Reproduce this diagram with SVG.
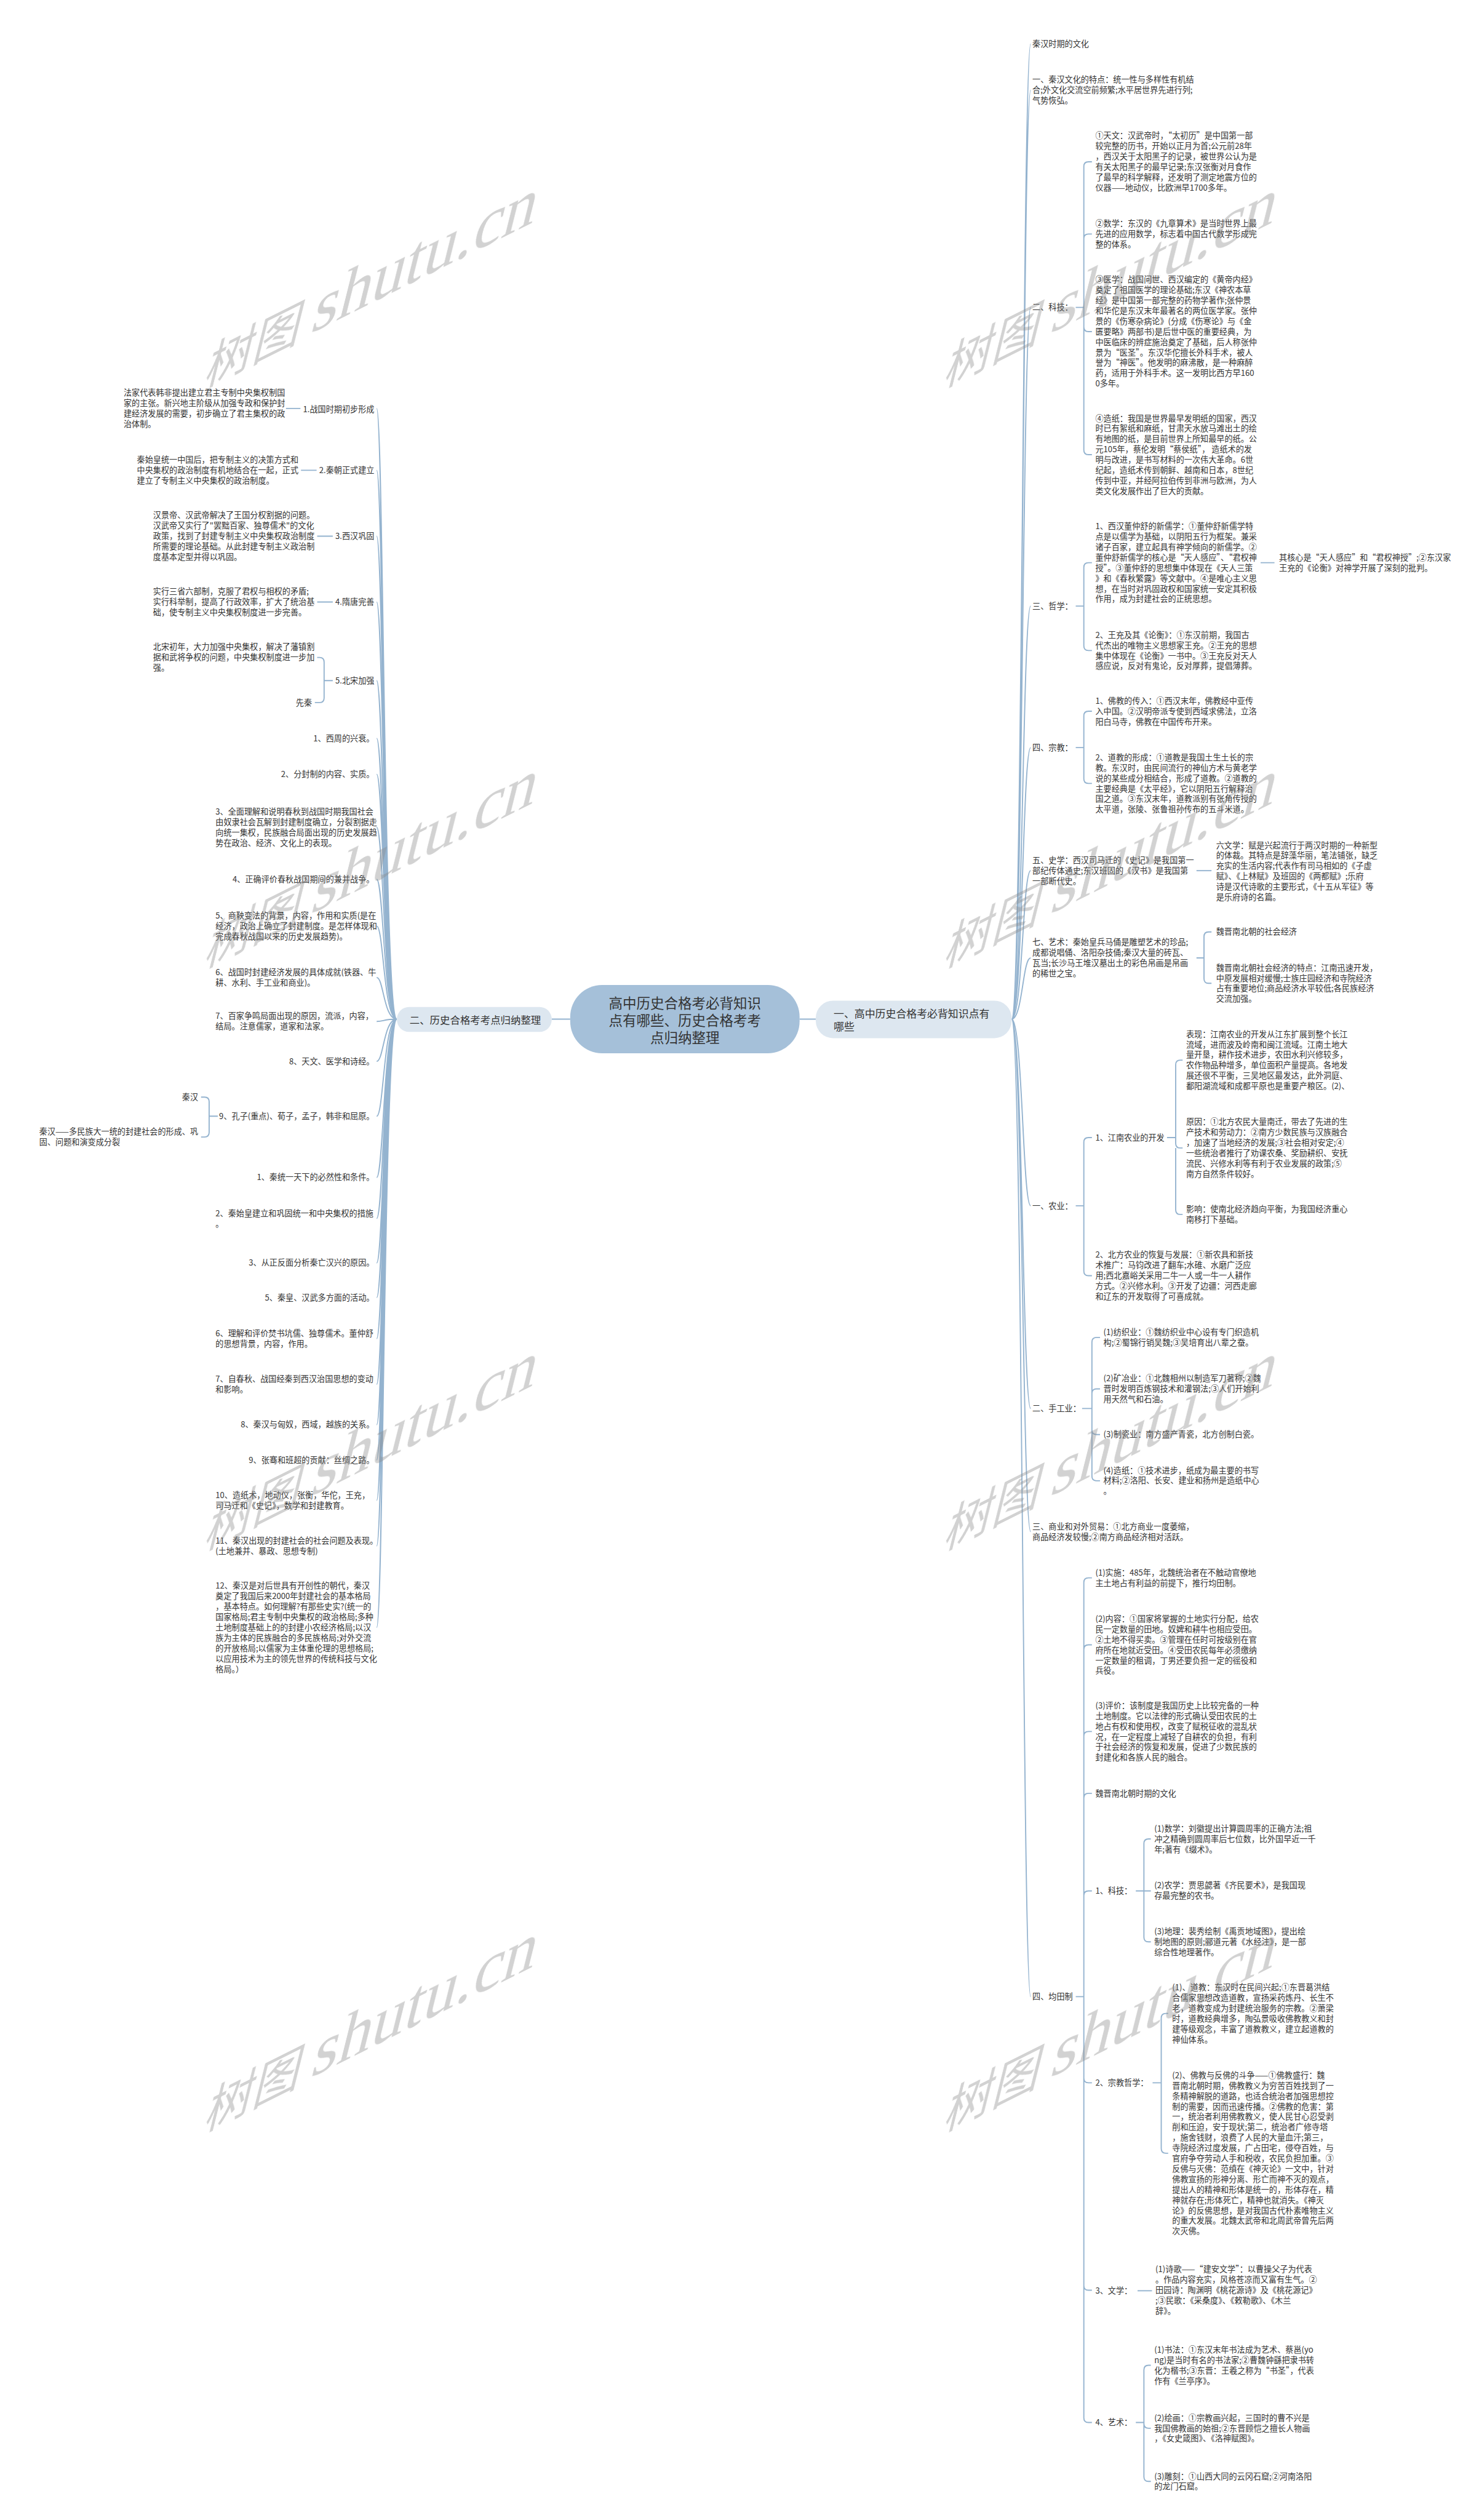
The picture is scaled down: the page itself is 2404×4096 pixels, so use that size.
<svg xmlns="http://www.w3.org/2000/svg" width="2404" height="4096" viewBox="0 0 2404 4096">
<style>
.t{font-family:"Noto Sans CJK SC","Liberation Sans",sans-serif;font-size:14px;fill:#333}
.e{text-anchor:end}
.c path{fill:none;stroke:#94b3cf;stroke-width:2}
.wm{fill:#888;opacity:.38}
.wa{font-family:"Noto Sans CJK SC",sans-serif;font-size:92px}
.wb{font-family:"Liberation Serif",serif;font-size:128px}
</style>
<rect width="2404" height="4096" fill="#fff"/>
<g transform="scale(0.9390625)">
<g id="connectors" class="c">
<path d="M955 1764H987M1384 1764H1412"/>
<path d="M1751 1764C1770 1764 1770 76 1784 76M1751 1764C1770 1764 1770 156 1784 156M1751 1764C1770 1764 1770 532 1784 532M1751 1764C1770 1764 1770 1049 1784 1049M1751 1764C1770 1764 1770 1294 1784 1294M1751 1764C1770 1764 1770 1507 1784 1507M1751 1764C1770 1764 1770 1658 1784 1658M1751 1764C1770 1764 1770 2087 1784 2087M1751 1764C1770 1764 1770 2438 1784 2438M1751 1764C1770 1764 1770 2651 1784 2651M1751 1764C1770 1764 1770 3456 1784 3456"/>
<path d="M1862 532H1876V288Q1876 280 1884 280H1890M1876 532V413Q1876 405 1884 405H1890M1876 532V566Q1876 574 1884 574H1890M1876 532V779Q1876 787 1884 787H1890"/>
<path d="M1862 1049H1876V982Q1876 974 1884 974H1890M1876 1049V1118Q1876 1126 1884 1126H1890M2182 974H2206"/>
<path d="M1862 1294H1876V1239Q1876 1231 1884 1231H1890M1876 1294V1348Q1876 1356 1884 1356H1890"/>
<path d="M2071 1507H2097"/>
<path d="M2071 1658H2084V1621Q2084 1613 2092 1613H2097M2084 1658V1694Q2084 1702 2092 1702H2097"/>
<path d="M1862 2087H1876V1977Q1876 1969 1884 1969H1890M1876 2087V2200Q1876 2208 1884 2208H1890"/>
<path d="M2020 1969H2035V1843Q2035 1835 2043 1835H2047M2035 1969V1979Q2035 1987 2043 1987H2047M2035 1987V2094Q2035 2102 2043 2102H2047"/>
<path d="M1873 2438H1890V2323Q1890 2315 1898 2315H1904M1890 2438V2412Q1890 2404 1898 2404H1904M1890 2438V2475Q1890 2483 1898 2483H1904M1890 2438V2555Q1890 2563 1898 2563H1904"/>
<path d="M1862 3456H1876V2739Q1876 2731 1884 2731H1890M1876 2855Q1876 2847 1884 2847H1890M1876 3005Q1876 2997 1884 2997H1890M1876 3112Q1876 3104 1884 3104H1890M1876 3281Q1876 3273 1884 3273H1890M1876 3456V3597Q1876 3605 1884 3605H1890M1876 3597V3956Q1876 3964 1884 3964H1890M1876 3956V4185Q1876 4193 1884 4193H1890"/>
<path d="M1966 3273H1980V3191Q1980 3183 1988 3183H1992M1980 3273H1992M1980 3273V3353Q1980 3361 1988 3361H1992"/>
<path d="M1995 3605H2010V3493Q2010 3485 2018 3485H2022M2010 3605V3719Q2010 3727 2018 3727H2022"/>
<path d="M1969 3965H1994"/>
<path d="M1966 4193H1980V4102Q1980 4094 1988 4094H1992M1980 4193V4195Q1980 4203 1988 4203H1992M1980 4195V4287Q1980 4295 1988 4295H1992"/>
<path d="M687 1764C664 1764 664 707 652 707M687 1764C664 1764 664 814 652 814M687 1764C664 1764 664 928 652 928M687 1764C664 1764 664 1042 652 1042M687 1764C664 1764 664 1178 652 1178M687 1764C664 1764 664 1278 652 1278M687 1764C664 1764 664 1340 652 1340M687 1764C664 1764 664 1432 652 1432M687 1764C664 1764 664 1522 652 1522M687 1764C664 1764 664 1603 652 1603M687 1764C664 1764 664 1692 652 1692M687 1764C664 1764 664 1768 652 1768M687 1764C664 1764 664 1837 652 1837M687 1764C664 1764 664 1932 652 1932M687 1764C664 1764 664 2038 652 2038M687 1764C664 1764 664 2109 652 2109M687 1764C664 1764 664 2186 652 2186M687 1764C664 1764 664 2246 652 2246M687 1764C664 1764 664 2317 652 2317M687 1764C664 1764 664 2396 652 2396M687 1764C664 1764 664 2466 652 2466M687 1764C664 1764 664 2527 652 2527M687 1764C664 1764 664 2597 652 2597M687 1764C664 1764 664 2676 652 2676M687 1764C664 1764 664 2817 652 2817"/>
<path d="M520 707H495M548 814H521M576 928H549M576 1042H549"/>
<path d="M576 1178H561V1146Q561 1138 553 1138H549M561 1178V1208Q561 1216 553 1216H545"/>
<path d="M377 1932H362V1907Q362 1899 354 1899H348M362 1932V1960Q362 1968 354 1968H348"/>
</g>
<g id="root"><rect x="987" y="1705" width="397" height="118" rx="55" fill="#a5c0d9"/><text class="t" style="font-size:24px;text-anchor:middle"><tspan x="1185.5" y="1745">高中历史合格考必背知识</tspan><tspan x="1185.5" y="1775">点有哪些、历史合格考考</tspan><tspan x="1185.5" y="1805">点归纳整理</tspan></text></g>
<g id="b1"><rect x="1412" y="1732" width="339" height="65" rx="30" fill="#dde7f0"/><text class="t" style="font-size:18px"><tspan x="1443" y="1761">一、高中历史合格考必背知识点有</tspan><tspan x="1443" y="1784">哪些</tspan></text></g>
<g id="b2"><rect x="687" y="1743" width="268" height="43" rx="21" fill="#dde7f0"/><text class="t" style="font-size:17.5px" x="709" y="1772">二、历史合格考考点归纳整理</text></g>
<g id="r1"><text class="t" x="1787" y="81">秦汉时期的文化</text></g>
<g id="r2"><text class="t"><tspan x="1787" y="143">一、秦汉文化的特点：统一性与多样性有机结</tspan><tspan x="1787" y="161">合;外文化交流空前频繁;水平居世界先进行列;</tspan><tspan x="1787" y="179">气势恢弘。</tspan></text></g>
<g id="r3"><text class="t" x="1787" y="537">二、科技：</text></g>
<g id="r3a"><text class="t"><tspan x="1896" y="240">①天文：汉武帝时，“太初历”是中国第一部</tspan><tspan x="1896" y="258">较完整的历书，开始以正月为首;公元前28年</tspan><tspan x="1896" y="276">，西汉关于太阳黑子的记录，被世界公认为是</tspan><tspan x="1896" y="294">有关太阳黑子的最早记录;东汉张衡对月食作</tspan><tspan x="1896" y="312">了最早的科学解释，还发明了测定地震方位的</tspan><tspan x="1896" y="330">仪器——地动仪，比欧洲早1700多年。</tspan></text></g>
<g id="r3b"><text class="t"><tspan x="1896" y="392">②数学：东汉的《九章算术》是当时世界上最</tspan><tspan x="1896" y="410">先进的应用数学，标志着中国古代数学形成完</tspan><tspan x="1896" y="428">整的体系。</tspan></text></g>
<g id="r3c"><text class="t"><tspan x="1896" y="489">③医学：战国问世、西汉编定的《黄帝内经》</tspan><tspan x="1896" y="507">奠定了祖国医学的理论基础;东汉《神农本草</tspan><tspan x="1896" y="525">经》是中国第一部完整的药物学著作;张仲景</tspan><tspan x="1896" y="543">和华佗是东汉末年最著名的两位医学家。张仲</tspan><tspan x="1896" y="561">景的《伤寒杂病论》(分成《伤寒论》与《金</tspan><tspan x="1896" y="579">匮要略》两部书)是后世中医的重要经典，为</tspan><tspan x="1896" y="597">中医临床的辨症施治奠定了基础，后人称张仲</tspan><tspan x="1896" y="615">景为“医圣”。东汉华佗擅长外科手术，被人</tspan><tspan x="1896" y="633">誉为“神医”。他发明的麻沸散，是一种麻醉</tspan><tspan x="1896" y="651">药，适用于外科手术。这一发明比西方早160</tspan><tspan x="1896" y="669">0多年。</tspan></text></g>
<g id="r3d"><text class="t"><tspan x="1896" y="729">④造纸：我国是世界最早发明纸的国家，西汉</tspan><tspan x="1896" y="747">时已有絮纸和麻纸，甘肃天水放马滩出土的绘</tspan><tspan x="1896" y="765">有地图的纸，是目前世界上所知最早的纸。公</tspan><tspan x="1896" y="783">元105年，蔡伦发明“蔡侯纸”， 造纸术的发</tspan><tspan x="1896" y="801">明与改进，是书写材料的一次伟大革命。6世</tspan><tspan x="1896" y="819">纪起，造纸术传到朝鲜、越南和日本，8世纪</tspan><tspan x="1896" y="837">传到中亚，并经阿拉伯传到非洲与欧洲，为人</tspan><tspan x="1896" y="855">类文化发展作出了巨大的贡献。</tspan></text></g>
<g id="r4"><text class="t" x="1787" y="1054">三、哲学：</text></g>
<g id="r4a"><text class="t"><tspan x="1896" y="916">1、西汉董仲舒的新儒学：①董仲舒新儒学特</tspan><tspan x="1896" y="934">点是以儒学为基础，以阴阳五行为框架。兼采</tspan><tspan x="1896" y="952">诸子百家，建立起具有神学倾向的新儒学。②</tspan><tspan x="1896" y="970">董仲舒新儒学的核心是“天人感应”、“君权神</tspan><tspan x="1896" y="988">授”。③董仲舒的思想集中体现在《天人三策</tspan><tspan x="1896" y="1006">》和《春秋繁露》等文献中。④是唯心主义思</tspan><tspan x="1896" y="1024">想，在当时对巩固政权和国家统一安定其积极</tspan><tspan x="1896" y="1042">作用，成为封建社会的正统思想。</tspan></text></g>
<g id="r4a1"><text class="t"><tspan x="2214" y="970">其核心是“天人感应”和“君权神授”;②东汉家</tspan><tspan x="2214" y="988">王充的《论衡》对神学开展了深刻的批判。</tspan></text></g>
<g id="r4b"><text class="t"><tspan x="1896" y="1104">2、王充及其《论衡》：①东汉前期，我国古</tspan><tspan x="1896" y="1122">代杰出的唯物主义思想家王充。②王充的思想</tspan><tspan x="1896" y="1140">集中体现在《论衡》一书中。③王充反对天人</tspan><tspan x="1896" y="1158">感应说，反对有鬼论，反对厚葬，提倡薄葬。</tspan></text></g>
<g id="r5"><text class="t" x="1787" y="1299">四、宗教：</text></g>
<g id="r5a"><text class="t"><tspan x="1896" y="1218">1、佛教的传入：①西汉末年，佛教经中亚传</tspan><tspan x="1896" y="1236">入中国。②汉明帝派专使到西域求佛法，立洛</tspan><tspan x="1896" y="1254">阳白马寺，佛教在中国传布开来。</tspan></text></g>
<g id="r5b"><text class="t"><tspan x="1896" y="1316">2、道教的形成：①道教是我国土生土长的宗</tspan><tspan x="1896" y="1334">教。东汉时，由民间流行的神仙方术与黄老学</tspan><tspan x="1896" y="1352">说的某些成分相结合，形成了道教。②道教的</tspan><tspan x="1896" y="1370">主要经典是《太平经》，它以阴阳五行解释治</tspan><tspan x="1896" y="1388">国之道。③东汉末年，道教派别有张角传授的</tspan><tspan x="1896" y="1406">太平道，张陵、张鲁祖孙传布的五斗米道。</tspan></text></g>
<g id="r6"><text class="t"><tspan x="1787" y="1494">五、史学：西汉司马迁的《史记》是我国第一</tspan><tspan x="1787" y="1512">部纪传体通史;东汉班固的《汉书》是我国第</tspan><tspan x="1787" y="1530">一部断代史。</tspan></text></g>
<g id="r6a"><text class="t"><tspan x="2105" y="1468">六文学：赋是兴起流行于两汉时期的一种新型</tspan><tspan x="2105" y="1486">的体裁。其特点是辞藻华丽，笔法铺张，缺乏</tspan><tspan x="2105" y="1504">充实的生活内容;代表作有司马相如的《子虚</tspan><tspan x="2105" y="1522">赋》、《上林赋》及班固的《两都赋》;乐府</tspan><tspan x="2105" y="1540">诗是汉代诗歌的主要形式，《十五从军征》等</tspan><tspan x="2105" y="1558">是乐府诗的名篇。</tspan></text></g>
<g id="r7"><text class="t"><tspan x="1787" y="1636">七、艺术：秦始皇兵马俑是雕塑艺术的珍品;</tspan><tspan x="1787" y="1654">成都说唱俑、洛阳杂技俑;秦汉大量的砖瓦、</tspan><tspan x="1787" y="1672">瓦当;长沙马王堆汉墓出土的彩色帛画是帛画</tspan><tspan x="1787" y="1690">的稀世之宝。</tspan></text></g>
<g id="r7a"><text class="t" x="2105" y="1618">魏晋南北朝的社会经济</text></g>
<g id="r7b"><text class="t"><tspan x="2105" y="1680">魏晋南北朝社会经济的特点：江南迅速开发，</tspan><tspan x="2105" y="1698">中原发展相对缓慢;士族庄园经济和寺院经济</tspan><tspan x="2105" y="1716">占有重要地位;商品经济水平较低;各民族经济</tspan><tspan x="2105" y="1734">交流加强。</tspan></text></g>
<g id="r8"><text class="t" x="1787" y="2092">一、农业：</text></g>
<g id="r8a"><text class="t" x="1896" y="1974">1、江南农业的开发</text></g>
<g id="r8a1"><text class="t"><tspan x="2053" y="1795">表现：江南农业的开发从江东扩展到整个长江</tspan><tspan x="2053" y="1813">流域，进而波及岭南和闽江流域。江南土地大</tspan><tspan x="2053" y="1831">量开垦，耕作技术进步，农田水利兴修较多，</tspan><tspan x="2053" y="1849">农作物品种增多，单位面积产量提高。各地发</tspan><tspan x="2053" y="1867">展还很不平衡，三吴地区最发达，此外洞庭、</tspan><tspan x="2053" y="1885">鄱阳湖流域和成都平原也是重要产粮区。(2)、</tspan></text></g>
<g id="r8a2"><text class="t"><tspan x="2053" y="1947">原因：①北方农民大量南迁，带去了先进的生</tspan><tspan x="2053" y="1965">产技术和劳动力：②南方少数民族与汉族融合</tspan><tspan x="2053" y="1983">，加速了当地经济的发展;③社会相对安定;④</tspan><tspan x="2053" y="2001">一些统治者推行了劝课农桑、奖励耕织、安抚</tspan><tspan x="2053" y="2019">流民、兴修水利等有利于农业发展的政策;⑤</tspan><tspan x="2053" y="2037">南方自然条件较好。</tspan></text></g>
<g id="r8a3"><text class="t"><tspan x="2053" y="2098">影响：使南北经济趋向平衡，为我国经济重心</tspan><tspan x="2053" y="2116">南移打下基础。</tspan></text></g>
<g id="r8b"><text class="t"><tspan x="1896" y="2177">2、北方农业的恢复与发展：①新农具和新技</tspan><tspan x="1896" y="2195">术推广：马钧改进了翻车;水碓、水磨广泛应</tspan><tspan x="1896" y="2213">用;西北嘉峪关采用二牛一人或一牛一人耕作</tspan><tspan x="1896" y="2231">方式。②兴修水利。③开发了边疆：河西走廊</tspan><tspan x="1896" y="2249">和辽东的开发取得了可喜成就。</tspan></text></g>
<g id="r9"><text class="t" x="1787" y="2443">二、手工业：</text></g>
<g id="r9a"><text class="t"><tspan x="1910" y="2311">(1)纺织业：①魏纺织业中心设有专门织造机</tspan><tspan x="1910" y="2329">构;②蜀锦行销吴魏;③吴培育出八辈之蚕。</tspan></text></g>
<g id="r9b"><text class="t"><tspan x="1910" y="2391">(2)矿冶业：①北魏相州以制造军刀著称;②魏</tspan><tspan x="1910" y="2409">晋时发明百炼钢技术和灌钢法;③人们开始利</tspan><tspan x="1910" y="2427">用天然气和石油。</tspan></text></g>
<g id="r9c"><text class="t" x="1910" y="2488">(3)制瓷业：南方盛产青瓷，北方创制白瓷。</text></g>
<g id="r9d"><text class="t"><tspan x="1910" y="2550">(4)造纸：①技术进步，纸成为最主要的书写</tspan><tspan x="1910" y="2568">材料;②洛阳、长安、建业和扬州是造纸中心</tspan><tspan x="1910" y="2586">。</tspan></text></g>
<g id="r10"><text class="t"><tspan x="1787" y="2647">三、商业和对外贸易：①北方商业一度萎缩，</tspan><tspan x="1787" y="2665">商品经济发较慢;②南方商品经济相对活跃。</tspan></text></g>
<g id="r11"><text class="t" x="1787" y="3461">四、均田制</text></g>
<g id="r11a"><text class="t"><tspan x="1896" y="2727">(1)实施：485年，北魏统治者在不触动官僚地</tspan><tspan x="1896" y="2745">主土地占有利益的前提下，推行均田制。</tspan></text></g>
<g id="r11b"><text class="t"><tspan x="1896" y="2807">(2)内容：①国家将掌握的土地实行分配，给农</tspan><tspan x="1896" y="2825">民一定数量的田地。奴婢和耕牛也相应受田。</tspan><tspan x="1896" y="2843">②土地不得买卖。③管理在任时可按级别在官</tspan><tspan x="1896" y="2861">府所在地就近受田。④受田农民每年必须缴纳</tspan><tspan x="1896" y="2879">一定数量的租调，丁男还要负担一定的徭役和</tspan><tspan x="1896" y="2897">兵役。</tspan></text></g>
<g id="r11c"><text class="t"><tspan x="1896" y="2957">(3)评价：该制度是我国历史上比较完备的一种</tspan><tspan x="1896" y="2975">土地制度。它以法律的形式确认受田农民的土</tspan><tspan x="1896" y="2993">地占有权和使用权，改变了赋税征收的混乱状</tspan><tspan x="1896" y="3011">况，在一定程度上减轻了自耕农的负担，有利</tspan><tspan x="1896" y="3029">于社会经济的恢复和发展，促进了少数民族的</tspan><tspan x="1896" y="3047">封建化和各族人民的融合。</tspan></text></g>
<g id="r11d"><text class="t" x="1896" y="3109">魏晋南北朝时期的文化</text></g>
<g id="r11e"><text class="t" x="1896" y="3278">1、科技：</text></g>
<g id="r11e1"><text class="t"><tspan x="1998" y="3170">(1)数学：刘徽提出计算圆周率的正确方法;祖</tspan><tspan x="1998" y="3188">冲之精确到圆周率后七位数，比外国早近一千</tspan><tspan x="1998" y="3206">年;著有《缀术》。</tspan></text></g>
<g id="r11e2"><text class="t"><tspan x="1998" y="3268">(2)农学：贾思勰著《齐民要术》，是我国现</tspan><tspan x="1998" y="3286">存最完整的农书。</tspan></text></g>
<g id="r11e3"><text class="t"><tspan x="1998" y="3348">(3)地理：裴秀绘制《禹贡地域图》，提出绘</tspan><tspan x="1998" y="3366">制地图的原则;郦道元著《水经注》，是一部</tspan><tspan x="1998" y="3384">综合性地理著作。</tspan></text></g>
<g id="r11f"><text class="t" x="1896" y="3610">2、宗教哲学：</text></g>
<g id="r11f1"><text class="t"><tspan x="2029" y="3445">(1)、道教：东汉时在民间兴起;①东晋葛洪结</tspan><tspan x="2029" y="3463">合儒家思想改造道教，宣扬采药炼丹、长生不</tspan><tspan x="2029" y="3481">老，道教变成为封建统治服务的宗教。②萧梁</tspan><tspan x="2029" y="3499">时，道教经典增多，陶弘景吸收佛教教义和封</tspan><tspan x="2029" y="3517">建等级观念，丰富了道教教义，建立起道教的</tspan><tspan x="2029" y="3535">神仙体系。</tspan></text></g>
<g id="r11f2"><text class="t"><tspan x="2029" y="3597">(2)、佛教与反佛的斗争——①佛教盛行：魏</tspan><tspan x="2029" y="3615">晋南北朝时期，佛教教义为穷苦百姓找到了一</tspan><tspan x="2029" y="3633">条精神解脱的道路，也适合统治者加强思想控</tspan><tspan x="2029" y="3651">制的需要，因而迅速传播。②佛教的危害：第</tspan><tspan x="2029" y="3669">一，统治者利用佛教教义，使人民甘心忍受剥</tspan><tspan x="2029" y="3687">削和压迫，安于现状;第二，统治者广修寺塔</tspan><tspan x="2029" y="3705">，施舍钱财，浪费了人民的大量血汗;第三，</tspan><tspan x="2029" y="3723">寺院经济过度发展，广占田宅，侵夺百姓，与</tspan><tspan x="2029" y="3741">官府争夺劳动人手和税收，农民负担加重。③</tspan><tspan x="2029" y="3759">反佛与灭佛：范缜在《神灭论》一文中，针对</tspan><tspan x="2029" y="3777">佛教宣扬的形神分离、形亡而神不灭的观点，</tspan><tspan x="2029" y="3795">提出人的精神和形体是统一的，形体存在，精</tspan><tspan x="2029" y="3813">神就存在;形体死亡，精神也就消失。《神灭</tspan><tspan x="2029" y="3831">论》的反佛思想，是对我国古代朴素唯物主义</tspan><tspan x="2029" y="3849">的重大发展。北魏太武帝和北周武帝曾先后两</tspan><tspan x="2029" y="3867">次灭佛。</tspan></text></g>
<g id="r11g"><text class="t" x="1896" y="3970">3、文学：</text></g>
<g id="r11g1"><text class="t"><tspan x="2000" y="3933">(1)诗歌——“建安文学”：以曹操父子为代表</tspan><tspan x="2000" y="3951">。作品内容充实，风格苍凉而又富有生气。②</tspan><tspan x="2000" y="3969">田园诗：陶渊明《桃花源诗》及《桃花源记》</tspan><tspan x="2000" y="3987">;③民歌：《采桑度》、《敕勒歌》、《木兰</tspan><tspan x="2000" y="4005">辞》。</tspan></text></g>
<g id="r11h"><text class="t" x="1896" y="4198">4、艺术：</text></g>
<g id="r11h1"><text class="t"><tspan x="1998" y="4072">(1)书法：①东汉末年书法成为艺术、蔡邕(yo</tspan><tspan x="1998" y="4090">ng)是当时有名的书法家;②曹魏钟繇把隶书转</tspan><tspan x="1998" y="4108">化为楷书;③东晋：王羲之称为“书圣”，代表</tspan><tspan x="1998" y="4126">作有《兰亭序》。</tspan></text></g>
<g id="r11h2"><text class="t"><tspan x="1998" y="4190">(2)绘画：①宗教画兴起，三国时的曹不兴是</tspan><tspan x="1998" y="4208">我国佛教画的始祖;②东晋顾恺之擅长人物画</tspan><tspan x="1998" y="4226">，《女史箴图》、《洛神赋图》。</tspan></text></g>
<g id="r11h3"><text class="t"><tspan x="1998" y="4291">(3)雕刻：①山西大同的云冈石窟;②河南洛阳</tspan><tspan x="1998" y="4309">的龙门石窟。</tspan></text></g>
<g id="l1"><text class="t e" x="648" y="713">1.战国时期初步形成</text></g>
<g id="l1a"><text class="t"><tspan x="214" y="685">法家代表韩非提出建立君主专制中央集权制国</tspan><tspan x="214" y="703">家的主张。新兴地主阶级从加强专政和保护封</tspan><tspan x="214" y="721">建经济发展的需要，初步确立了君主集权的政</tspan><tspan x="214" y="739">治体制。</tspan></text></g>
<g id="l2"><text class="t e" x="648" y="819">2.秦朝正式建立</text></g>
<g id="l2a"><text class="t"><tspan x="237" y="801">秦始皇统一中国后，把专制主义的决策方式和</tspan><tspan x="237" y="819">中央集权的政治制度有机地结合在一起，正式</tspan><tspan x="237" y="837">建立了专制主义中央集权的政治制度。</tspan></text></g>
<g id="l3"><text class="t e" x="648" y="933">3.西汉巩固</text></g>
<g id="l3a"><text class="t"><tspan x="265" y="897">汉景帝、汉武帝解决了王国分权割据的问题。</tspan><tspan x="265" y="915">汉武帝又实行了"罢黜百家、独尊儒术"的文化</tspan><tspan x="265" y="933">政策，找到了封建专制主义中央集权政治制度</tspan><tspan x="265" y="951">所需要的理论基础。从此封建专制主义政治制</tspan><tspan x="265" y="969">度基本定型并得以巩固。</tspan></text></g>
<g id="l4"><text class="t e" x="648" y="1047">4.隋唐完善</text></g>
<g id="l4a"><text class="t"><tspan x="265" y="1029">实行三省六部制，克服了君权与相权的矛盾;</tspan><tspan x="265" y="1047">实行科举制，提高了行政效率，扩大了统治基</tspan><tspan x="265" y="1065">础，使专制主义中央集权制度进一步完善。</tspan></text></g>
<g id="l5"><text class="t e" x="648" y="1183">5.北宋加强</text></g>
<g id="l5a"><text class="t"><tspan x="265" y="1125">北宋初年，大力加强中央集权，解决了藩镇割</tspan><tspan x="265" y="1143">据和武将争权的问题，中央集权制度进一步加</tspan><tspan x="265" y="1161">强。</tspan></text></g>
<g id="l5b"><text class="t e" x="540" y="1221">先秦</text></g>
<g id="l6"><text class="t e" x="648" y="1283">1、西周的兴衰。</text></g>
<g id="l7"><text class="t e" x="648" y="1345">2、分封制的内容、实质。</text></g>
<g id="l8"><text class="t"><tspan x="373" y="1410">3、全面理解和说明春秋到战国时期我国社会</tspan><tspan x="373" y="1428">由奴隶社会瓦解到封建制度确立，分裂割据走</tspan><tspan x="373" y="1446">向统一集权，民族融合局面出现的历史发展趋</tspan><tspan x="373" y="1464">势在政治、经济、文化上的表现。</tspan></text></g>
<g id="l9"><text class="t e" x="648" y="1527">4、正确评价春秋战国期间的兼并战争。</text></g>
<g id="l10"><text class="t"><tspan x="373" y="1590">5、商鞅变法的背景，内容，作用和实质(是在</tspan><tspan x="373" y="1608">经济，政治上确立了封建制度。是怎样体现和</tspan><tspan x="373" y="1626">完成春秋战国以来的历史发展趋势)。</tspan></text></g>
<g id="l11"><text class="t"><tspan x="373" y="1688">6、战国时封建经济发展的具体成就(铁器、牛</tspan><tspan x="373" y="1706">耕、水利、手工业和商业)。</tspan></text></g>
<g id="l12"><text class="t"><tspan x="373" y="1764">7、百家争鸣局面出现的原因，流派，内容，</tspan><tspan x="373" y="1782">结局。注意儒家，道家和法家。</tspan></text></g>
<g id="l13"><text class="t e" x="648" y="1842">8、天文、医学和诗经。</text></g>
<g id="l14"><text class="t e" x="648" y="1937">9、孔子(重点)、荀子，孟子，韩非和屈原。</text></g>
<g id="l14a"><text class="t e" x="343" y="1904">秦汉</text></g>
<g id="l14b"><text class="t"><tspan x="68" y="1964">秦汉——多民族大一统的封建社会的形成、巩</tspan><tspan x="68" y="1982">固、问题和演变成分裂</tspan></text></g>
<g id="l15"><text class="t e" x="648" y="2043">1、秦统一天下的必然性和条件。</text></g>
<g id="l16"><text class="t"><tspan x="373" y="2105">2、秦始皇建立和巩固统一和中央集权的措施</tspan><tspan x="373" y="2123">。</tspan></text></g>
<g id="l17"><text class="t e" x="648" y="2191">3、从正反面分析秦亡汉兴的原因。</text></g>
<g id="l18"><text class="t e" x="648" y="2251">5、秦皇、汉武多方面的活动。</text></g>
<g id="l19"><text class="t"><tspan x="373" y="2313">6、理解和评价焚书坑儒、独尊儒术。董仲舒</tspan><tspan x="373" y="2331">的思想背景，内容，作用。</tspan></text></g>
<g id="l20"><text class="t"><tspan x="373" y="2392">7、自春秋、战国经秦到西汉治国思想的变动</tspan><tspan x="373" y="2410">和影响。</tspan></text></g>
<g id="l21"><text class="t e" x="648" y="2471">8、秦汉与匈奴，西域，越族的关系。</text></g>
<g id="l22"><text class="t e" x="648" y="2532">9、张骞和班超的贡献：丝绸之路。</text></g>
<g id="l23"><text class="t"><tspan x="373" y="2593">10、造纸术，地动仪，张衡，华佗，王充，</tspan><tspan x="373" y="2611">司马迁和《史记》，数学和封建教育。</tspan></text></g>
<g id="l24"><text class="t"><tspan x="373" y="2672">11、秦汉出现的封建社会的社会问题及表现。</tspan><tspan x="373" y="2690">(土地兼并、暴政、思想专制)</tspan></text></g>
<g id="l25"><text class="t"><tspan x="373" y="2750">12、秦汉是对后世具有开创性的朝代，秦汉</tspan><tspan x="373" y="2768">奠定了我国后来2000年封建社会的基本格局</tspan><tspan x="373" y="2786">，基本特点。如何理解?有那些史实?(统一的</tspan><tspan x="373" y="2804">国家格局;君主专制中央集权的政治格局;多种</tspan><tspan x="373" y="2822">土地制度基础上的的封建小农经济格局;以汉</tspan><tspan x="373" y="2840">族为主体的民族融合的多民族格局;对外交流</tspan><tspan x="373" y="2858">的开放格局;以儒家为主体重伦理的思想格局;</tspan><tspan x="373" y="2876">以应用技术为主的领先世界的传统科技与文化</tspan><tspan x="373" y="2894">格局。）</tspan></text></g>
<g id="watermarks" class="wm">
<text transform="matrix(0.9 -0.45 -0.25 1 351 671)"><tspan class="wa">树图 </tspan><tspan class="wb">shutu.cn</tspan></text>
<text transform="matrix(0.9 -0.45 -0.25 1 1631 671)"><tspan class="wa">树图 </tspan><tspan class="wb">shutu.cn</tspan></text>
<text transform="matrix(0.9 -0.45 -0.25 1 351 1676)"><tspan class="wa">树图 </tspan><tspan class="wb">shutu.cn</tspan></text>
<text transform="matrix(0.9 -0.45 -0.25 1 1631 1676)"><tspan class="wa">树图 </tspan><tspan class="wb">shutu.cn</tspan></text>
<text transform="matrix(0.9 -0.45 -0.25 1 351 2684)"><tspan class="wa">树图 </tspan><tspan class="wb">shutu.cn</tspan></text>
<text transform="matrix(0.9 -0.45 -0.25 1 1631 2684)"><tspan class="wa">树图 </tspan><tspan class="wb">shutu.cn</tspan></text>
<text transform="matrix(0.9 -0.45 -0.25 1 351 3690)"><tspan class="wa">树图 </tspan><tspan class="wb">shutu.cn</tspan></text>
<text transform="matrix(0.9 -0.45 -0.25 1 1631 3690)"><tspan class="wa">树图 </tspan><tspan class="wb">shutu.cn</tspan></text>
</g>
</g>
</svg>
